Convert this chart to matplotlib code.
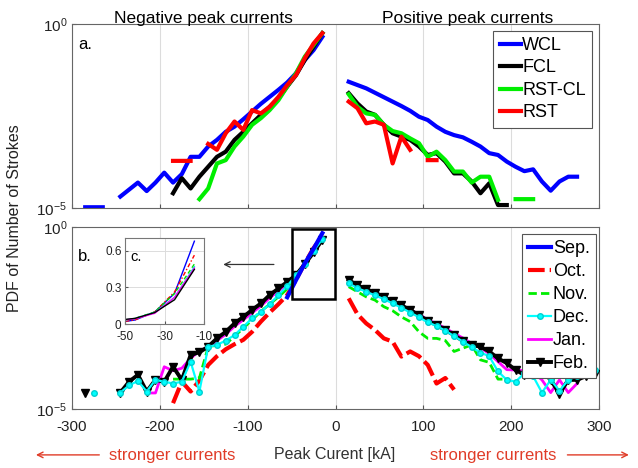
import numpy as np
import matplotlib
matplotlib.use('Agg')
import matplotlib.pyplot as plt
import matplotlib.transforms as mtransforms
from matplotlib.patches import Rectangle
from matplotlib.ticker import NullLocator

plt.rcParams['font.family'] = ['Liberation Sans', 'DejaVu Sans']
plt.rcParams['mathtext.fontset'] = 'custom'
plt.rcParams['mathtext.rm'] = 'Liberation Sans'
plt.rcParams['mathtext.it'] = 'Liberation Sans:italic'
plt.rcParams['axes.unicode_minus'] = False

nan = np.nan

# ---- panel a: PDF (log10 values) by stroke type, 10 kA bins ----
wcl_neg_x = [-285, -275, -265, -255, -245, -225, -215, -205, -195, -185, -175, -165, -155, -145,
             -135, -125, -115, -105, -95, -85, -75, -65, -55, -45, -35, -25, -15]
wcl_neg_log = [-4.98, -4.98, -4.98, nan, -4.69, -4.31, -4.54, -4.31, -4.04, -4.31, -4.08, -3.61, -3.61,
               -3.33, -3.15, -2.93, -2.79, -2.59, -2.38, -2.17, -1.98, -1.79, -1.59, -1.34, -0.98, -0.71, -0.35]
wcl_pos_x = [15, 35, 50, 60, 75, 85, 95, 105, 115, 125, 135, 145, 155, 165, 175, 185, 195, 205,
             215, 225, 235, 245, 255, 265, 275]
wcl_pos_log = [-1.57, -1.75, -1.93, -2.05, -2.23, -2.36, -2.52, -2.61, -2.79, -2.93, -3.02, -3.08, -3.20,
               -3.33, -3.51, -3.56, -3.74, -3.88, -4.00, -3.95, -4.28, -4.53, -4.28, -4.15, -4.15]

fcl_neg_x = list(range(-185, -14, 10))
fcl_neg_log = [-4.60, -4.19, -4.47, -4.15, -3.88, -3.61, -3.47, -3.15, -2.93, -2.70, -2.47, -2.25,
               -2.02, -1.70, -1.39, -0.98, -0.62, -0.25]
fcl_pos_x = list(range(15, 196, 10))
fcl_pos_log = [-1.88, -2.16, -2.38, -2.47, -2.74, -2.97, -3.06, -3.15, -3.33, -3.56, -3.51, -3.74,
               -4.06, -4.06, -4.28, -4.60, -4.33, -4.92, -4.92]

rstcl_neg_x = list(range(-155, -14, 10))
rstcl_neg_log = [-4.76, -4.47, -3.79, -3.70, -3.33, -3.06, -2.74, -2.56, -2.34, -2.07, -1.70, -1.34,
                 -0.89, -0.57, -0.25]
rstcl_pos_x = list(range(15, 226, 10))
rstcl_pos_log = [-1.91, -2.25, -2.43, -2.47, -2.74, -2.91, -2.97, -3.11, -3.24, -3.61, -3.47, -3.70,
                 -4.01, -4.01, -4.31, -4.15, -4.15, -4.78, nan, -4.76, -4.76, -4.76]

rst_neg_x = list(range(-185, -14, 10))
rst_neg_log = [-3.72, -3.72, -3.72, nan, -3.26, -3.42, -2.97, -2.65, -2.88, -2.34, -2.43, -2.25,
               -1.98, -1.66, -1.39, -0.93, -0.53, -0.25]
rst_pos_x = list(range(15, 116, 10))
rst_pos_log = [-2.11, -2.29, -2.70, -2.65, -2.74, -3.79, -3.06, -3.42, nan, -3.70, -3.70]

# ---- panel b: PDF (log10 values) by month ----
sep_neg_x = [-55, -45, -35, -25, -15]
sep_neg_log = [-1.93, -1.46, -1.00, -0.60, -0.17]

oct_neg_x = list(range(-185, -14, 10))
oct_neg_log = [-4.84, -4.25, -4.52, -4.22, -3.79, -3.55, -3.36, -3.22, -3.10, -2.88, -2.60, -2.35,
               -2.12, -1.87, -1.45, -1.00, -0.58, -0.25]
oct_pos_x = list(range(15, 136, 10))
oct_pos_log = [-1.96, -2.40, -2.65, -2.83, -3.06, -3.15, -3.56, -3.42, -3.55, -3.79, -4.30, -4.15, -4.47]

nov_neg_x = list(range(-185, -14, 10))
nov_neg_log = [-4.18, -4.18, -4.18, -4.15, -3.30, -3.24, -3.22, -3.00, -2.78, -2.55, -2.32, -2.12,
               -1.92, -1.70, -1.32, -1.00, -0.60, -0.31]
nov_pos_x = list(range(15, 196, 10))
nov_pos_log = [-1.64, -1.78, -1.92, -2.01, -2.19, -2.30, -2.47, -2.60, -2.88, -3.06, -3.06, -3.12,
               -3.42, -3.33, -3.24, -3.65, -3.72, -4.18, -4.18]

dec_neg_x = list(range(-275, -14, 10))
dec_neg_log = [-4.55, nan, nan, -4.55, -4.35, -4.23, -4.52, -4.20, -4.25, -4.30, -4.25, -3.70, -4.52,
               -3.29, -3.24, -3.12, -2.97, -2.74, -2.51, -2.33, -2.12, -1.87, -1.62, -1.33, -1.02,
               -0.66, -0.33]
dec_pos_x = list(range(15, 296, 10))
dec_pos_log = [-1.55, -1.68, -1.78, -1.88, -1.98, -2.10, -2.22, -2.35, -2.48, -2.62, -2.72, -2.85,
               -3.00, -3.15, -3.30, -3.45, -3.55, -3.97, -4.20, -4.25, -4.02, -4.10, -4.55, -4.20,
               -4.50, -4.20, -4.10, -4.00, -3.92]

jan_neg_x = list(range(-215, -14, 10))
jan_neg_log = [-4.56, -4.56, -3.84, -3.95, -3.88, -3.61, -3.40, -3.30, -3.12, -2.95, -2.73, -2.55,
               -2.36, -2.17, -1.95, -1.76, -1.57, -1.35, -1.05, -0.66, -0.34]
jan_pos_x = list(range(15, 276, 10))
jan_pos_log = [-1.52, -1.63, -1.73, -1.83, -1.93, -2.04, -2.15, -2.27, -2.40, -2.55, -2.65, -2.78,
               -2.92, -3.05, -3.20, -3.32, -3.48, -3.70, -3.92, -3.93, -3.95, -4.00, -4.20, -4.55,
               -4.20, -4.55, -4.30]

feb_neg_x = list(range(-285, -14, 10))
feb_neg_log = [-4.55, nan, nan, nan, -4.55, -4.25, -4.06, -4.52, -4.20, -4.25, -3.84, -4.20, -3.52,
               -3.44, -3.29, -3.06, -2.88, -2.65, -2.47, -2.28, -2.10, -1.87, -1.69, -1.51, -1.32,
               -1.02, -0.70, -0.35]
feb_pos_x = list(range(15, 296, 10))
feb_pos_log = [-1.46, -1.60, -1.71, -1.80, -1.92, -2.04, -2.15, -2.28, -2.42, -2.58, -2.69, -2.83,
               -2.97, -3.13, -3.24, -3.29, -3.42, -3.61, -3.74, -3.93, -4.06, -4.00, -3.95, -4.20,
               -4.58, -4.20, -4.20, -4.10, -4.05]


def pdf(logs):
    return 10.0 ** np.array(logs, dtype=float)


fig = plt.figure(figsize=(6.38, 4.68), dpi=100)
ax_a = fig.add_axes([0.1129, 0.5556, 0.826, 0.3932])
ax_b = fig.add_axes([0.1129, 0.1261, 0.826, 0.3889])

for ax in (ax_a, ax_b):
    ax.set_yscale('log')
    ax.set_xlim(-300, 300)
    ax.set_ylim(1e-5, 1)
    ax.set_xticks(range(-300, 301, 100))
    ax.set_yticks([1e-5, 1])
    ax.yaxis.set_minor_locator(NullLocator())
    ax.grid(axis='x', color='#dcdcdc', lw=0.8)
    ax.set_axisbelow(True)
    ax.tick_params(direction='in', length=3, color='#555555', labelsize=11, labelcolor='#222222')
    ax.tick_params(axis='x', pad=8)
    for s in ax.spines.values():
        s.set_color('#666666')
        s.set_linewidth(0.8)
ax_a.tick_params(labelbottom=False)

# ---- panel a ----
LW = 3
ax_a.plot(wcl_neg_x, pdf(wcl_neg_log), color='#0000ff', lw=LW, label='WCL')
ax_a.plot(wcl_pos_x, pdf(wcl_pos_log), color='#0000ff', lw=LW)
ax_a.plot(fcl_neg_x, pdf(fcl_neg_log), color='black', lw=LW, label='FCL')
ax_a.plot(fcl_pos_x, pdf(fcl_pos_log), color='black', lw=LW)
ax_a.plot(rstcl_neg_x, pdf(rstcl_neg_log), color='#00ee00', lw=LW, label='RST-CL')
ax_a.plot(rstcl_pos_x, pdf(rstcl_pos_log), color='#00ee00', lw=LW)
ax_a.plot(rst_neg_x, pdf(rst_neg_log), color='#ff0000', lw=LW, label='RST')
ax_a.plot(rst_pos_x, pdf(rst_pos_log), color='#ff0000', lw=LW)

tr_a = mtransforms.blended_transform_factory(ax_a.transData, ax_a.transAxes)
ax_a.text(-150, 1.005, 'Negative peak currents', transform=tr_a, ha='center', va='baseline', fontsize=12.5)
ax_a.text(150, 1.005, 'Positive peak currents', transform=tr_a, ha='center', va='baseline', fontsize=12.5)
ax_a.text(0.012, 0.89, 'a.', transform=ax_a.transAxes, va='center', fontsize=12)

leg_a = ax_a.legend(loc='upper right', bbox_to_anchor=(0.9284, 0.9344), bbox_transform=fig.transFigure,
                    borderaxespad=0, fontsize=13, frameon=True, fancybox=False, edgecolor='#555555',
                    framealpha=1, borderpad=0.35, labelspacing=0.3, handlelength=1.15, handletextpad=0.1)
leg_a.get_frame().set_linewidth(0.8)

# ---- panel b ----
ax_b.plot(sep_neg_x, pdf(sep_neg_log), color='#0000ff', lw=3, zorder=6, label='Sep.')
ax_b.plot(oct_neg_x, pdf(oct_neg_log), color='#ff0000', lw=3, dashes=(4, 1.2), zorder=2, label='Oct.')
ax_b.plot(oct_pos_x, pdf(oct_pos_log), color='#ff0000', lw=3, dashes=(4, 1.2), zorder=2)
ax_b.plot(nov_neg_x, pdf(nov_neg_log), color='#00ee00', lw=2, dashes=(3, 1.5), zorder=3, label='Nov.')
ax_b.plot(nov_pos_x, pdf(nov_pos_log), color='#00ee00', lw=2, dashes=(3, 1.5), zorder=3)
ax_b.plot(dec_neg_x, pdf(dec_neg_log), color='#00ffff', lw=1.6, marker='o', ms=4, mfc='#00ffff',
          mec='#00d0d0', mew=1, zorder=5, label='Dec.')
ax_b.plot(dec_pos_x, pdf(dec_pos_log), color='#00ffff', lw=1.6, marker='o', ms=4, mfc='#00ffff',
          mec='#00d0d0', mew=1, zorder=5)
ax_b.plot(jan_neg_x, pdf(jan_neg_log), color='#ff00ff', lw=2, zorder=3.5, label='Jan.')
ax_b.plot(jan_pos_x, pdf(jan_pos_log), color='#ff00ff', lw=2, zorder=3.5)
ax_b.plot(feb_neg_x, pdf(feb_neg_log), color='black', lw=2.8, marker='v', ms=6, zorder=4, label='Feb.')
ax_b.plot(feb_pos_x, pdf(feb_pos_log), color='black', lw=2.8, marker='v', ms=6, zorder=4)

ax_b.add_patch(Rectangle((-50, 10 ** -1.98), 49, 10 ** -0.06 - 10 ** -1.98, fill=False,
                         edgecolor='black', lw=1.8, zorder=7))
ax_b.annotate('', xy=(-131, 10 ** -1.03), xytext=(-67, 10 ** -1.03),
              arrowprops=dict(arrowstyle='->', color='#333333', lw=0.9))
ax_b.text(0.012, 0.84, 'b.', transform=ax_b.transAxes, va='center', fontsize=12)

leg_b = ax_b.legend(loc='upper right', bbox_to_anchor=(0.9342, 0.5), bbox_transform=fig.transFigure,
                    borderaxespad=0, fontsize=13, frameon=True, fancybox=False, edgecolor='#555555',
                    framealpha=1, borderpad=0.35, labelspacing=0.33, handlelength=1.25, handletextpad=0.1)
leg_b.get_frame().set_linewidth(0.8)
leg_b.set_zorder(10)

# ---- inset c (linear scale, -50..-10 kA) ----
ax_c = fig.add_axes([0.1959, 0.3071, 0.1243, 0.1838])
ax_c.plot(sep_neg_x, pdf(sep_neg_log), color='#0000ff', lw=1)
ax_c.plot(oct_neg_x, pdf(oct_neg_log), color='#ff0000', lw=1, ls=(0, (3, 1.5, 1, 1.5)))
ax_c.plot(nov_neg_x, pdf(nov_neg_log), color='#00dd00', lw=1, ls=(0, (3, 2)))
ax_c.plot(dec_neg_x, pdf(dec_neg_log), color='#00e5e5', lw=1)
ax_c.plot(jan_neg_x, pdf(jan_neg_log), color='#ff00ff', lw=1)
ax_c.plot(feb_neg_x, pdf(feb_neg_log), color='black', lw=1)
ax_c.set_xlim(-50, -10)
ax_c.set_ylim(0, 0.7)
ax_c.set_xticks([-50, -30, -10])
ax_c.set_yticks([0, 0.3, 0.6])
ax_c.set_yticklabels(['0', '0.3', '0.6'])
ax_c.grid(color='#dcdcdc', lw=0.7)
ax_c.set_axisbelow(True)
ax_c.tick_params(direction='in', length=2, labelsize=8.5, pad=2.5, color='#555555', labelcolor='#222222')
ax_c.tick_params(axis='x', pad=5)
for s in ax_c.spines.values():
    s.set_color('#777777')
    s.set_linewidth(0.8)
ax_c.text(0.07, 0.78, 'c.', transform=ax_c.transAxes, va='center', fontsize=10.5)

# ---- figure-level labels ----
fig.text(0.022, 0.534, 'PDF of Number of Strokes', rotation=90, ha='center', va='center',
         fontsize=11.5, color='#222222')
fig.text(0.525, 0.028, 'Peak Curent [kA]', ha='center', va='center', fontsize=11.5, color='#333333')
red = '#e03c28'
fig.text(0.270, 0.026, 'stronger currents', ha='center', va='center', fontsize=12, color=red)
fig.text(0.773, 0.026, 'stronger currents', ha='center', va='center', fontsize=12, color=red)
ann_kw = dict(arrowprops=dict(arrowstyle='->', color=red, lw=1), xycoords='figure fraction',
              textcoords='figure fraction')
fig.add_artist(plt.Annotation('', xy=(0.052, 0.028), xytext=(0.160, 0.028), **ann_kw))
fig.add_artist(plt.Annotation('', xy=(0.990, 0.028), xytext=(0.885, 0.028), **ann_kw))

fig.savefig('out.png', dpi=100)
